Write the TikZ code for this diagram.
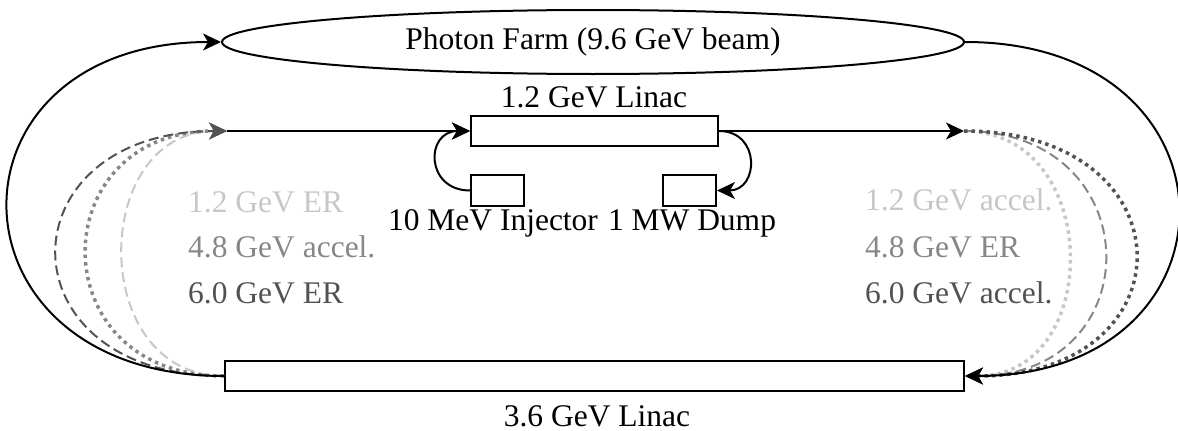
\documentclass[tikz,border=0pt]{standalone}
\usepackage{fontspec}
\setmainfont{Liberation Serif}
\usetikzlibrary{arrows.meta,shapes.geometric}
\colorlet{lt}{black!22}
\colorlet{md}{black!47}
\colorlet{dk}{black!68}
\begin{document}
\begin{tikzpicture}[x=1pt,y=-1pt,
  box/.style={draw,line width=2pt,rectangle,inner sep=0pt,fill=white},
  lbl/.style={inner sep=0pt,font=\fontsize{31.5}{36}\selectfont},
  tipA/.style={-{Stealth[length=18pt,width=17pt,inset=5pt]}},
  conn/.style={line width=2pt,tipA},
  erline/.style={line width=2pt,dash pattern=on 10pt off 5pt,tipA},
  acline/.style={line width=3.5pt,dash pattern=on 3.5pt off 4pt,tipA}
]
\useasboundingbox (0,0) rectangle (1178,431);

% nodes
\node[draw,line width=2pt,ellipse,minimum width=742pt,minimum height=64pt,inner sep=0pt,fill=white,
      font=\fontsize{31.5}{36}\selectfont] (farm) at (593,42) {Photon Farm (9.6 GeV beam)};
\node[box,minimum width=247pt,minimum height=30pt] (linacA) at (594.5,131) {};
\node[box,minimum width=53pt,minimum height=31pt] (inj) at (497.5,190.5) {};
\node[box,minimum width=53pt,minimum height=31pt] (dump) at (689.5,190.5) {};
\node[box,minimum width=739pt,minimum height=30pt] (linacB) at (594.5,376) {};
\coordinate (L) at (227,131);
\coordinate (R) at (964,131);

% labels
\node[lbl,anchor=base] (labA) at (594,107) {1.2 GeV Linac};
\node[lbl,anchor=base] (labI) at (493,230) {10 MeV Injector};
\node[lbl,anchor=base] (labD) at (692,230) {1 MW Dump};
\node[lbl,anchor=base] (labB) at (597,426) {3.6 GeV Linac};

\node[lbl,anchor=base west,text=lt] (l1) at (188,212) {1.2 GeV ER};
\node[lbl,anchor=base west,text=md] (l2) at (188,257) {4.8 GeV accel.};
\node[lbl,anchor=base west,text=dk] (l3) at (188,303) {6.0 GeV ER};
\node[lbl,anchor=base west,text=lt] (r1) at (865,210) {1.2 GeV accel.};
\node[lbl,anchor=base west,text=md] (r2) at (865,257) {4.8 GeV ER};
\node[lbl,anchor=base west,text=dk] (r3) at (865,303) {6.0 GeV accel.};

% left return passes
\draw[erline,draw=lt,-{Stealth[length=18pt,width=17pt,inset=5pt,lt]}]
  (linacB.west) .. controls +(-137,0) and +(-137,0) .. (L);
\draw[acline,draw=md,-{Stealth[length=18pt,width=17pt,inset=5pt,md,line width=0pt]}]
  (linacB.west) .. controls +(-185,0) and +(-185,0) .. (L);
\draw[erline,draw=dk,-{Stealth[length=18pt,width=17pt,inset=5pt,dk]}]
  (linacB.west) .. controls +(-225,0) and +(-225,0) .. (L);

% right passes
\draw[acline,draw=lt,-{Stealth[length=18pt,width=17pt,inset=5pt,lt,line width=0pt]}]
  (R) .. controls +(139,0) and +(139,0) .. (linacB.east);
\draw[erline,draw=md,-{Stealth[length=18pt,width=17pt,inset=5pt,md]}]
  (R) .. controls +(187,0) and +(187,0) .. (linacB.east);
\draw[acline,draw=dk,-{Stealth[length=18pt,width=17pt,inset=5pt,dk,line width=0pt]}]
  (R) .. controls +(228,0) and +(228,0) .. (linacB.east);

% outer loop
\draw[conn] (linacB.west) .. controls +(-286,0) and +(-286,0) .. (farm.west);
\draw[conn] (farm.east) .. controls +(284,0) and +(284,0) .. (linacB.east);

% linac 1.2 GeV connections
\draw[conn] (L) -- (linacA.west);
\draw[conn] (linacA.east) -- (R);
\draw[conn] (inj.west) .. controls +(-45,0) and +(-45,0) .. (linacA.west);
\draw[conn] (linacA.east) .. controls +(42,0) and +(42,0) .. (dump.east);
\end{tikzpicture}
\end{document}
